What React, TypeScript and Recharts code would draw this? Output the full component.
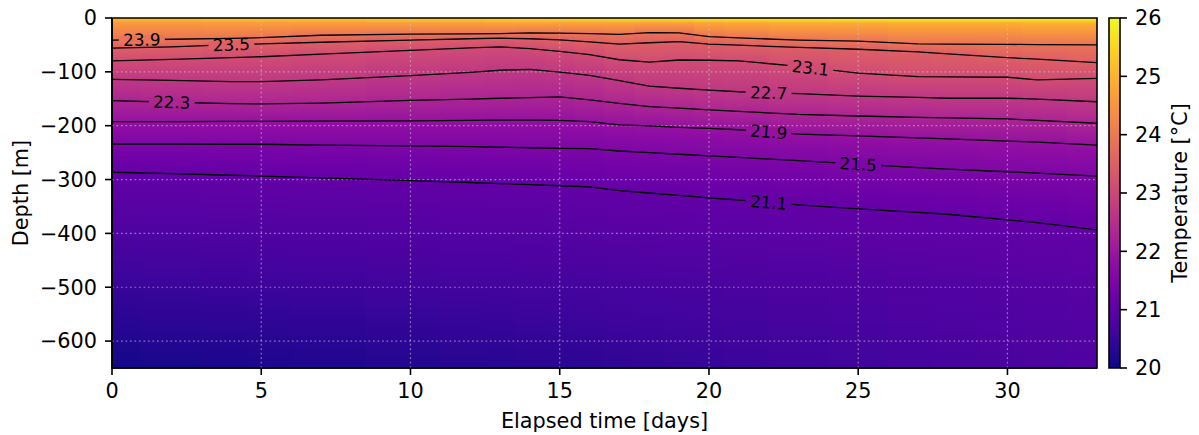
import React from 'react';
import {
  ComposedChart,
  XAxis,
  YAxis,
  Line,
  Scatter,
  ReferenceArea,
  ReferenceLine,
  Label,
} from 'recharts';

/* ------------------------- data ----------------------------------------- */
// sample days shared by every contour line and by the heatmap columns
const days = [0, 2, 4, 5, 7, 10, 12, 13, 14, 15, 16, 17, 18, 19, 20, 21, 23, 25, 27, 28, 30, 31, 33];

const levels = [23.9, 23.5, 23.1, 22.7, 22.3, 21.9, 21.5, 21.1];

// depth [m] of each isotherm at the sample days
const depth239 = [-41, -39.5, -38, -36.5, -32, -30, -29.5, -29, -27.5, -28, -29, -30.5, -27, -27.5, -34.5, -37, -41, -43, -48, -48.5, -49, -49.5, -50];
const depth235 = [-56, -53.5, -49.5, -48, -45, -41, -38.5, -37.5, -38.5, -40.5, -44.5, -48.5, -46, -44, -48.5, -50.5, -54.5, -58, -63, -66.5, -73.5, -76.5, -83];
const depth231 = [-79.5, -77, -73.5, -72, -67, -60, -55.5, -53.5, -57, -62, -68, -77.5, -82, -78, -78.5, -79.5, -90, -102.5, -109, -109.5, -110, -115, -112];
const depth227 = [-114, -116, -118, -118, -115, -107, -101, -97, -95.5, -100.5, -106.5, -116.5, -126.5, -130.5, -134, -137, -140.5, -145, -147.5, -149, -149, -150.5, -155.5];
const depth223 = [-153.5, -156.5, -159, -159.5, -158, -153, -150.5, -149, -148, -146.5, -152, -158.5, -164.5, -167.5, -170.5, -173.5, -179, -182, -184.5, -185.5, -187.5, -190, -195.5];
const depth219 = [-192.5, -192.5, -192, -192, -191.5, -191, -190, -189.5, -189.5, -190, -192.5, -198.5, -200.5, -203, -205, -207.5, -215.5, -219, -222.5, -224.5, -228.5, -230.5, -236];
const depth215 = [-234, -234, -234.5, -234.5, -236, -237.5, -239, -240, -241, -242, -242.5, -247, -250, -253, -256, -259, -265, -271.5, -278, -280.5, -285.5, -288, -293.5];
const depth211 = [-286.5, -289, -292, -293.5, -297, -302, -305.5, -307.5, -309.5, -311.5, -313.5, -320.5, -325, -329.5, -334, -338, -347, -354.5, -361, -364.5, -375, -380, -393.5];

const levelDepths = [depth239, depth235, depth231, depth227, depth223, depth219, depth215, depth211];

const surfaceTemp = [25.2, 25.25, 25.3, 25.3, 25.35, 25.45, 25.5, 25.55, 25.6, 25.65, 25.7, 25.75, 25.8, 25.8, 25.85, 25.9, 25.9, 25.95, 26.0, 26.0, 26.0, 26.0, 26.0];
const temp10m = [24.55, 24.55, 24.6, 24.6, 24.6, 24.65, 24.65, 24.7, 24.7, 24.7, 24.7, 24.7, 24.65, 24.65, 24.75, 24.8, 24.85, 24.85, 24.9, 24.9, 24.9, 24.95, 24.95];
const temp500m = [20.5, 20.52, 20.54, 20.55, 20.57, 20.6, 20.62, 20.63, 20.64, 20.65, 20.66, 20.68, 20.7, 20.71, 20.72, 20.74, 20.77, 20.8, 20.83, 20.85, 20.88, 20.9, 20.93];
const bottomTemp = [20.08, 20.12, 20.15, 20.17, 20.2, 20.25, 20.28, 20.3, 20.32, 20.34, 20.36, 20.4, 20.42, 20.45, 20.47, 20.5, 20.55, 20.6, 20.65, 20.67, 20.72, 20.75, 20.8];

// inline contour label positions (day)
const labelDays = [1.0, 4.0, 23.4, 22.0, 2.0, 22.0, 25.0, 22.0];

const xTicks = [0, 5, 10, 15, 20, 25, 30];
const yTicks = [0, -100, -200, -300, -400, -500, -600];
const cbarTicks = [20, 21, 22, 23, 24, 25, 26];

/* ------------------------- helpers -------------------------------------- */
const FONT = 'DejaVu Sans';
const T_MIN = 20;
const T_MAX = 26;
const DEPTH_MIN = -650;
const DAY_MAX = 33;
const PX_PER_DAY = 985 / DAY_MAX;
const PX_PER_M = 350 / -DEPTH_MIN;

const PLASMA = ['#0d0887', '#41049d', '#6a00a8', '#8f0da4', '#b12a90', '#cc4778', '#e16462', '#f2844b', '#fca636', '#fcce25', '#f0f921'];

const hex = (h: string) => [1, 3, 5].map((i) => parseInt(h.slice(i, i + 2), 16));
const plasma = (temp: number) => {
  const t = Math.min(1, Math.max(0, (temp - T_MIN) / (T_MAX - T_MIN)));
  const p = t * 10;
  const i = Math.min(9, Math.floor(p));
  const f = p - i;
  const a = hex(PLASMA[i]);
  const b = hex(PLASMA[i + 1]);
  const c = a.map((v, k) => Math.round(v + (b[k] - v) * f));
  return `rgb(${c[0]},${c[1]},${c[2]})`;
};

const minus = (v: number) => (v < 0 ? `\u2212${Math.abs(v)}` : `${v}`);

// gradient stops (offset 0 = surface, 1 = bottom) for one heatmap column
const columnStops = (j: number) => {
  const prof: [number, number][] = [
    [0, surfaceTemp[j]],
    [-10, temp10m[j]],
    ...levels.map((lv, k) => [levelDepths[k][j], lv] as [number, number]),
    [-500, temp500m[j]],
    [DEPTH_MIN, bottomTemp[j]],
  ];
  const out: { off: number; col: string }[] = [];
  for (let k = 0; k < prof.length - 1; k++) {
    const [d0, t0] = prof[k];
    const [d1, t1] = prof[k + 1];
    for (let s = 0; s < 4; s++) {
      const f = s / 4;
      out.push({ off: -(d0 + (d1 - d0) * f) / -DEPTH_MIN, col: plasma(t0 + (t1 - t0) * f) });
    }
  }
  out.push({ off: 1, col: plasma(bottomTemp[j]) });
  return out;
};

const depthAt = (arr: number[], day: number) => {
  let j = 0;
  while (j < days.length - 2 && days[j + 1] < day) j++;
  const f = (day - days[j]) / (days[j + 1] - days[j]);
  return { depth: arr[j] + (arr[j + 1] - arr[j]) * f, j };
};

const lineData = levelDepths.map((arr) => days.map((d, j) => ({ day: d, depth: arr[j] })));

const labelData = levels.map((lv, k) => {
  const { depth, j } = depthAt(levelDepths[k], labelDays[k]);
  const dyPx = -(levelDepths[k][j + 1] - levelDepths[k][j]) * PX_PER_M;
  const dxPx = (days[j + 1] - days[j]) * PX_PER_DAY;
  return { day: labelDays[k], depth, level: lv, angle: (Math.atan2(dyPx, dxPx) * 180) / Math.PI };
});

const columns = days.map((d, j) => ({
  x1: j === 0 ? 0 : (days[j - 1] + d) / 2,
  x2: j === days.length - 1 ? DAY_MAX : Math.min(DAY_MAX, (d + days[j + 1]) / 2 + 0.06),
  stops: columnStops(j),
}));

const cbarStops = Array.from({ length: 41 }, (_, i) => ({
  off: i / 40,
  col: plasma(T_MAX - (i / 40) * (T_MAX - T_MIN)),
}));

// two invisible points so the colourbar axes have something to scale
const cbarRange = [
  { x: 0, t: T_MIN },
  { x: 1, t: T_MAX },
];

/* ------------------------- pieces --------------------------------------- */
const ContourLabel = (props: any) => {
  const { cx, cy, payload } = props;
  if (cx == null || cy == null) return null;
  return (
    <g transform={`rotate(${payload.angle} ${cx} ${cy})`}>
      <rect x={cx - 23} y={cy - 4} width={46} height={8} fill={plasma(payload.level)} />
      <text
        x={cx}
        y={cy}
        dy="0.36em"
        textAnchor="middle"
        fontSize={16.7}
        fontFamily={FONT}
        fill="#000"
      >
        {payload.level.toFixed(1)}
      </text>
    </g>
  );
};

const tickStyle = { fontSize: 20.8, fill: '#000', fontFamily: FONT };
const axisStroke = { stroke: '#000', strokeWidth: 1.6 };

/* ------------------------- component ------------------------------------ */
export default function App() {
  return (
    <div style={{ position: 'absolute', left: 0, top: 0, width: 1199, height: 435, background: '#fff' }}>
      <div style={{ position: 'absolute', left: 0, top: 0 }}>
        <ComposedChart width={1100} height={435} margin={{ top: 18, right: 3, bottom: 7, left: 0 }}>
          <defs>
            {columns.map((c, j) => (
              <linearGradient key={j} id={`col${j}`} x1="0" y1="0" x2="0" y2="1">
                {c.stops.map((s, i) => (
                  <stop key={i} offset={s.off} stopColor={s.col} />
                ))}
              </linearGradient>
            ))}
          </defs>

          <XAxis
            dataKey="day"
            type="number"
            domain={[0, DAY_MAX]}
            ticks={xTicks}
            interval={0}
            allowDataOverflow
            height={60}
            tickSize={7}
            tickMargin={8}
            tick={tickStyle}
            axisLine={axisStroke}
            tickLine={axisStroke}
          >
            <Label
              value="Elapsed time [days]"
              position="insideBottom"
              offset={0}
              style={{ fontSize: 20.8, fill: '#000', fontFamily: FONT }}
            />
          </XAxis>

          <YAxis
            dataKey="depth"
            type="number"
            domain={[DEPTH_MIN, 0]}
            ticks={yTicks}
            interval={0}
            allowDataOverflow
            width={112}
            tickSize={7}
            tickMargin={8}
            tick={tickStyle}
            tickFormatter={minus}
            axisLine={axisStroke}
            tickLine={axisStroke}
            label={{
              content: () => (
                <text
                  x={28}
                  y={193}
                  transform="rotate(-90 28 193)"
                  textAnchor="middle"
                  fontSize={20.8}
                  fontFamily={FONT}
                  fill="#000"
                >
                  Depth [m]
                </text>
              ),
            }}
          />

          {columns.map((c, j) => (
            <ReferenceArea
              key={`c${j}`}
              x1={c.x1}
              x2={c.x2}
              y1={DEPTH_MIN}
              y2={0}
              fill={`url(#col${j})`}
              fillOpacity={1}
              stroke="none"
            />
          ))}

          {xTicks.slice(1).map((t) => (
            <ReferenceLine key={`gx${t}`} x={t} stroke="#c8c8c8" strokeOpacity={0.6} strokeWidth={1.2} strokeDasharray="1.7 2.8" />
          ))}
          {yTicks.slice(1).map((t) => (
            <ReferenceLine key={`gy${t}`} y={t} stroke="#c8c8c8" strokeOpacity={0.6} strokeWidth={1.2} strokeDasharray="1.7 2.8" />
          ))}

          {lineData.map((pts, k) => (
            <Line
              key={`l${k}`}
              data={pts}
              dataKey="depth"
              type="linear"
              stroke="#000"
              strokeWidth={1.3}
              dot={false}
              activeDot={false}
              isAnimationActive={false}
            />
          ))}

          <Scatter data={labelData} dataKey="depth" shape={ContourLabel} isAnimationActive={false} />

          <ReferenceArea
            x1={0}
            x2={DAY_MAX}
            y1={DEPTH_MIN}
            y2={0}
            fill="none"
            fillOpacity={0}
            stroke="#000"
            strokeWidth={1.6}
          />
        </ComposedChart>
      </div>

      <div style={{ position: 'absolute', left: 1100, top: 0 }}>
        <ComposedChart
          width={99}
          height={435}
          data={cbarRange}
          margin={{ top: 18, right: 0, bottom: 67, left: 9 }}
        >
          <defs>
            <linearGradient id="cbar" x1="0" y1="0" x2="0" y2="1">
              {cbarStops.map((s, i) => (
                <stop key={i} offset={s.off} stopColor={s.col} />
              ))}
            </linearGradient>
          </defs>
          <XAxis type="number" dataKey="x" domain={[0, 1]} hide />
          <YAxis
            type="number"
            dataKey="t"
            orientation="right"
            domain={[T_MIN, T_MAX]}
            ticks={cbarTicks}
            interval={0}
            width={79}
            tickSize={7}
            tickMargin={8}
            tick={tickStyle}
            axisLine={false}
            tickLine={axisStroke}
            label={{
              content: () => (
                <text
                  x={87}
                  y={193}
                  transform="rotate(-90 87 193)"
                  textAnchor="middle"
                  fontSize={20.8}
                  fontFamily={FONT}
                  fill="#000"
                >
                  Temperature [°C]
                </text>
              ),
            }}
          />
          <Line dataKey="t" stroke="none" dot={false} activeDot={false} isAnimationActive={false} />
          <ReferenceArea
            x1={0}
            x2={1}
            y1={T_MIN}
            y2={T_MAX}
            fill="url(#cbar)"
            fillOpacity={1}
            stroke="#000"
            strokeWidth={1.6}
          />
        </ComposedChart>
      </div>
    </div>
  );
}
